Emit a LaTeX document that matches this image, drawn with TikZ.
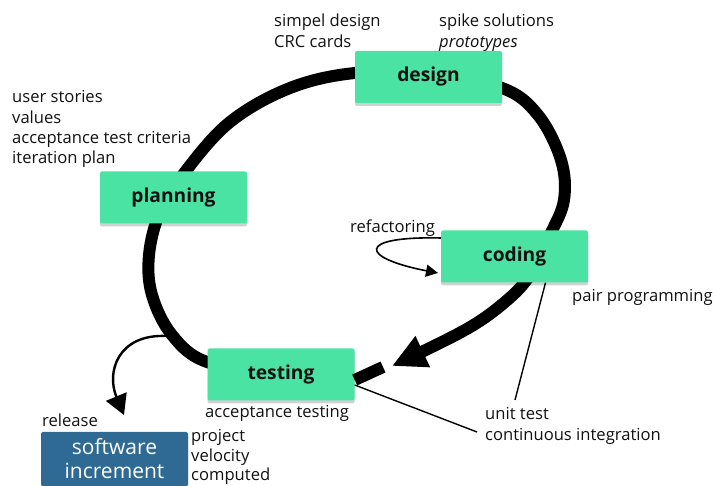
\documentclass[tikz,border=0pt]{standalone}
\usepackage{fontspec}
\setmainfont{Open Sans}
\usetikzlibrary{arrows.meta,shadows,backgrounds}
\definecolor{boxgreen}{HTML}{4AE3A3}
\definecolor{boxblue}{HTML}{2F6A94}
\definecolor{inkblack}{HTML}{111111}
\newcommand\mylines[1]{\begin{tabular}[t]{@{}l@{}}#1\end{tabular}}
\begin{document}
\begin{tikzpicture}[x=1pt,y=-1pt,
  phase/.style={fill=boxgreen, rounded corners=2pt, minimum width=147pt, minimum height=52pt,
    inner sep=0pt, text=inkblack, font=\bfseries\fontsize{19.2}{22}\selectfont,
    drop shadow={shadow xshift=0pt, shadow yshift=-3pt, opacity=0.18, fill=black}},
  result/.style={phase, fill=boxblue, text=white, align=center, font=\fontsize{21}{24}\selectfont},
  note/.style={anchor=base west, inner sep=0pt, text=inkblack, font=\fontsize{16.6}{20.3}\selectfont},
  loopline/.style={line width=12pt},
  thinarrow/.style={line width=1.6pt, -{Triangle[length=12pt,width=12pt]}},
  leader/.style={line width=1.4pt}
]
\useasboundingbox (0,0) rectangle (713,486);

% phase boxes
\node[phase] (design)   at (428.5,77)   {design};
\node[phase] (planning) at (173.5,197.5) {planning};
\node[phase] (coding)   at (514.5,256.5) {coding};
\node[phase] (testing)  at (281,374.5)  {testing};
\node[result, minimum height=54pt] (increment) at (114.5,459) {software\\increment};

% notes
\node[note] (designnote) at (274,27) {\mylines{simpel design\\CRC cards}};
\node[note] (spikenote) at (439,27) {\mylines{spike solutions\\\itshape prototypes}};
\node[note] (plannote) at (12,103) {\mylines{user stories\\values\\acceptance test criteria\\iteration plan}};
\node[note] (refnote) at (350,233) {refactoring};
\node[note] (pairnote) at (572,302) {pair programming};
\node[note] (atnote) at (205,418) {acceptance testing};
\node[note] (utnote) at (485,420) {\mylines{unit test\\continuous integration}};
\node[note] (relnote) at (42,427) {release};
\node[note, font=\fontsize{16.6}{19.5}\selectfont] (velnote) at (191,442) {\mylines{project\\velocity\\computed}};

% main loop
\begin{scope}[on background layer]
\draw[loopline, -{Triangle[length=34pt,width=32pt]}]
  plot[smooth, tension=0.6] coordinates {
  (testing.center) (207,362) (172,335) (152,295) (149,255) (160,212) (185,172)
  (230,122) (290,88) (355,73) (428,74) (502,88) (538,115) (561,160) (564,200)
  (550,235) (530,275) (505,302) (465,330) (392,366)};
\end{scope}
\coordinate (stubend) at (383,367);
\draw[loopline] (testing.east |- 0,380) -- (stubend);

% refactoring self-loop
\coordinate (refstart) at (441,238);
\coordinate (refend) at (438,273);
\draw[thinarrow] (refstart) .. controls (355,236) and (360,258) .. (refend);

% release arrow
\coordinate (relstart) at (166,336);
\coordinate (relend) at (124,415);
\draw[line width=2.4pt, -{Triangle[length=20pt,width=22pt]}]
  (relstart) .. controls (118,334) and (106,372) .. (relend);

% leader lines
\coordinate (ut1) at (515,400);
\coordinate (ut2) at (477,432);
\draw[leader] ([xshift=31pt]coding.south) -- (ut1);
\draw[leader] (testing.east |- 0,385) -- (ut2);
\end{tikzpicture}
\end{document}
